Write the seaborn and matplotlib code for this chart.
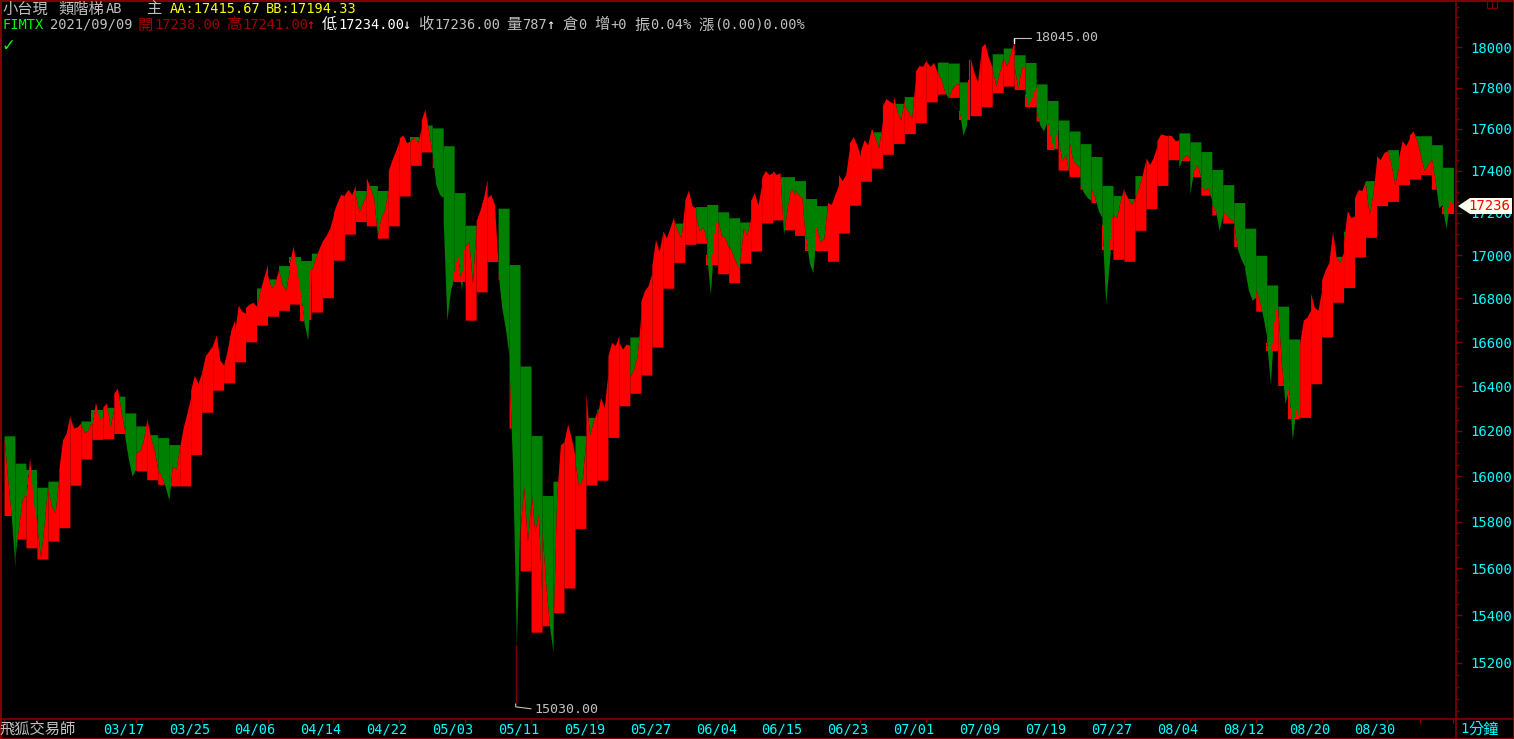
import numpy as np
import matplotlib
matplotlib.use("Agg")
import matplotlib.pyplot as plt
import seaborn as sns
from matplotlib.ticker import FixedLocator, FixedFormatter, NullFormatter
from matplotlib.patches import Polygon, Rectangle

# ---- data: one row per trading day (03/04 .. 09/09) ----
# four intraday price points per day (start, turn, turn, end)
price_path = [
    [16170, 15987, 15822, 15604], [15648, 15778, 15898, 15929], [15911, 16083, 15885, 15796],
    [15778, 15648, 15796, 15973], [15943, 15867, 15840, 16000], [16031, 16161, 16191, 16271],
    [16262, 16213, 16218, 16235], [16226, 16191, 16204, 16249], [16226, 16329, 16249, 16262],
    [16307, 16324, 16218, 16298], [16369, 16391, 16285, 16195], [16174, 16074, 16000, 16031],
    [16104, 16109, 16152, 16249], [16258, 16174, 16117, 16031], [16031, 16000, 15956, 15898],
    [15885, 16044, 16031, 16130], [16130, 16218, 16280, 16351], [16382, 16449, 16413, 16462],
    [16462, 16538, 16560, 16583], [16587, 16632, 16518, 16495], [16495, 16563, 16655, 16700],
    [16650, 16768, 16741, 16732], [16759, 16773, 16782, 16764], [16764, 16838, 16900, 16957],
    [16910, 16848, 16871, 16933], [16933, 16862, 16838, 16933], [16966, 17044, 16933, 16824],
    [16824, 16686, 16609, 16933], [16933, 16981, 17029, 17068], [17068, 17093, 17127, 17190],
    [17200, 17248, 17286, 17281], [17286, 17310, 17286, 17329], [17286, 17200, 17248, 17286],
    [17367, 17319, 17271, 17093], [17093, 17176, 17214, 17319], [17400, 17452, 17495, 17543],
    [17557, 17571, 17533, 17543], [17543, 17562, 17533, 17605], [17643, 17695, 17590, 17476],
    [17476, 17333, 17286, 17271], [17161, 16700, 16838, 16900], [16900, 16995, 16838, 17029],
    [17044, 17063, 16871, 17141], [17161, 17210, 17271, 17357], [17271, 17286, 17240, 16950],
    [16918, 16756, 16662, 16536], [16489, 16017, 15274, 15834], [15758, 15956, 15713, 15895],
    [15941, 15758, 15834, 15462], [15758, 15535, 15360, 15245], [15317, 15911, 16137, 16152],
    [16152, 16231, 16167, 16092], [16062, 15956, 15987, 16167], [16365, 16181, 16243, 16289],
    [16259, 16350, 16304, 16458], [16536, 16599, 16584, 16630], [16599, 16568, 16591, 16584],
    [16443, 16474, 16536, 16725], [16787, 16836, 16860, 16918], [16950, 17074, 17017, 17107],
    [17115, 17082, 17132, 17182], [17167, 17115, 17082, 17250], [17259, 17307, 17232, 17224],
    [17182, 17115, 17132, 17065], [16999, 16818, 17082, 17167], [17167, 17092, 17082, 17033],
    [17050, 17007, 16967, 16933], [16967, 17127, 17093, 17176], [17258, 17295, 17238, 17333],
    [17367, 17400, 17381, 17390], [17400, 17381, 17390, 17093], [17093, 17224, 17319, 17286],
    [17305, 17286, 17271, 17063], [17093, 16967, 16919, 17127], [17127, 17063, 17078, 17238],
    [17248, 17238, 17286, 17329], [17381, 17352, 17381, 17510], [17533, 17562, 17524, 17471],
    [17495, 17548, 17524, 17605], [17605, 17557, 17510, 17638], [17714, 17748, 17733, 17724],
    [17762, 17686, 17643, 17748], [17714, 17686, 17652, 17843], [17881, 17909, 17905, 17938],
    [17928, 17905, 17924, 17876], [17876, 17843, 17781, 17748], [17748, 17795, 17819, 17819],
    [17686, 17571, 17619, 17938], [17947, 17876, 17829, 17986], [18000, 18019, 17948, 17900],
    [17890, 17810, 17876, 17948], [17948, 17905, 17971, 18030], [17905, 17795, 17900, 17905],
    [17762, 17700, 17748, 17795], [17686, 17619, 17590, 17638], [17643, 17543, 17495, 17605],
    [17557, 17448, 17476, 17381], [17543, 17448, 17429, 17414], [17333, 17295, 17271, 17258],
    [17319, 17271, 17210, 17176], [17141, 16777, 16967, 17176], [17190, 17176, 17258, 17319],
    [17305, 17271, 17238, 17271], [17271, 17319, 17381, 17452], [17462, 17429, 17462, 17519],
    [17543, 17576, 17571, 17567], [17571, 17567, 17543, 17548], [17414, 17462, 17476, 17462],
    [17286, 17400, 17429, 17367], [17333, 17305, 17319, 17258], [17238, 17210, 17117, 17190],
    [17205, 17190, 17170, 17160], [17151, 17029, 16981, 16948], [16933, 16838, 16791, 16805],
    [16838, 16791, 16714, 16623], [16595, 16413, 16668, 16768], [16759, 16505, 16324, 16382],
    [16382, 16161, 16298, 16249], [16595, 16700, 16714, 16746], [16824, 16759, 16746, 16838],
    [16886, 16933, 16967, 17112], [17112, 16990, 16967, 17015], [17063, 17210, 17176, 17185],
    [17271, 17310, 17305, 17352], [17333, 17190, 17286, 17448], [17471, 17452, 17486, 17495],
    [17495, 17429, 17333, 17414], [17462, 17543, 17519, 17557], [17571, 17590, 17543, 17476],
    [17476, 17400, 17429, 17452], [17462, 17352, 17224, 17238], [17224, 17127, 17248, 17236],
]

# upper step AA (top of green blocks), None where it is not visible
aa_step = [
    16178, 16057, 16026, 15951, 15978, None, None, 16244, 16289, 16305,
    16355, 16280, 16222, 16183, 16170, 16139, None, None, None, None,
    None, None, 16732, 16848, 16890, 16952, 16990, 16976, 17010, None,
    None, None, 17305, 17329, 17305, None, None, 17560, 17619, 17605,
    17519, 17295, 17141, None, None, 17221, 16957, 16491, 16179, 15915,
    15978, None, 16179, 16260, 16298, None, None, 16623, None, None,
    None, 17151, None, 17229, 17239, 17204, 17176, 17156, None, None,
    17371, 17371, 17352, 17267, 17233, None, None, None, None, 17586,
    None, 17724, 17757, None, None, 17926, 17921, 17829, None, None,
    17967, 17995, 17962, 17924, 17819, 17738, 17643, 17590, 17529, 17467,
    17329, 17281, 17267, 17376, None, None, None, 17581, 17538, 17491,
    17405, 17333, 17248, 17127, 17000, 16862, 16764, 16614, None, None,
    None, 16995, 17112, None, 17352, None, 17500, None, 17567, 17567,
    17524, 17415.67,
]

# lower step BB (bottom of red blocks)
bb_step = [
    15828, 15726, 15688, 15640, 15717, 15775, 15960, 16075, 16162, 16165,
    16188, None, 16023, 15984, 15964, 15957, 15957, 16095, 16283, 16382,
    16415, 16510, 16601, 16677, 16718, 16745, 16774, 16700, 16737, 16803,
    16977, 17099, 17158, 17138, 17080, 17138, 17279, 17425, 17489, 17414,
    17143, 16878, 16700, 16830, 16971, 16886, 16212, 15589, 15329, 15356,
    15411, 15516, 15772, 15961, 15982, 16171, 16312, 16368, 16450, 16577,
    16847, 16967, 17051, 17056, 16957, 16914, 16873, 16963, 17020, 17151,
    17166, 17119, 17093, 17022, 17022, 16972, 17104, 17235, 17349, 17411,
    17478, 17530, 17577, 17630, 17731, 17769, 17753, 17645, 17664, 17707,
    17776, 17808, 17791, 17707, 17638, 17502, 17402, 17371, 17311, 17248,
    17025, 16981, 16972, 17117, 17219, 17329, 17452, 17448, 17371, 17283,
    17190, 17151, 17041, None, 16741, 16563, 16403, 16257, 16260, 16411,
    16623, 16782, 16850, 16992, 17084, 17233, 17253, 17333, 17359, 17381,
    17311, 17194.33,
]

date_labels = ['03/17', '03/25', '04/06', '04/14', '04/22', '05/03', '05/11', '05/19',
               '05/27', '06/04', '06/15', '06/23', '07/01', '07/09', '07/19', '07/27',
               '08/04', '08/12', '08/20', '08/30']
label_days = [9 + 6 * i for i in range(len(date_labels))]
price_ticks = list(range(15200, 18001, 200))

high_val, high_day = 18045.0, 91.98
low_val, low_day = 15030.0, 46.6
last_price = 17236

# ---- style ----
RED, GREEN, DARKRED = '#ff0000', '#008000', '#800000'
CYAN, GRAY, YELLOW = '#00ffff', '#c0c0c0', '#ffff00'
MONO = ['DejaVu Sans Mono', 'Noto Sans CJK TC']
CJK = ['Noto Sans CJK TC', 'DejaVu Sans']

sns.set_theme(style='dark', rc={'axes.facecolor': 'black', 'figure.facecolor': 'black'})
plt.rcParams['font.family'] = MONO

W, H = 1514, 739
fig = plt.figure(figsize=(W / 100, H / 100), dpi=100)
ax = fig.add_axes([1 / W, 20 / H, 1455 / W, 718 / H])
ax.set_facecolor('black')

frac = np.array([0, 1 / 3, 2 / 3, 1])
aa = np.array(aa_step, dtype=float)
bb = np.array(bb_step, dtype=float)
for d, p in enumerate(price_path):
    x = d + frac
    p = np.array(p, dtype=float)
    if not np.isnan(aa[d]):
        ax.fill_between(x, p, aa[d], where=p < aa[d], interpolate=True,
                        color=GREEN, lw=0, antialiased=False)
    if not np.isnan(bb[d]):
        ax.fill_between(x, bb[d], p, where=p > bb[d], interpolate=True,
                        color=RED, lw=0, antialiased=False)

# extreme wicks and their labels
ax.plot([low_day, low_day], [15274, low_val], color=DARKRED, lw=1)
ax.plot([high_day, high_day], [18019, high_val], color='white', lw=1)
ax.plot([low_day, low_day, 48.0], [low_val, 15018, 15010], color=GRAY, lw=0.8)
ax.text(48.3, 15008, '%.2f' % low_val, color=GRAY, fontsize=9.6, va='center', ha='left')
ax.plot([high_day, 93.5], [high_val, high_val], color=GRAY, lw=0.8)
ax.text(93.8, high_val, '%.2f' % high_val, color=GRAY, fontsize=9.6, va='center', ha='left')

ax.set_yscale('log')
ax.set_ylim(14968, 18229)
ax.set_xlim(-0.273, 132.24)
ax.grid(False)
for s in ax.spines.values():
    s.set_visible(False)

ax.yaxis.tick_right()
ax.yaxis.set_major_locator(FixedLocator(price_ticks))
ax.yaxis.set_major_formatter(FixedFormatter([str(v) for v in price_ticks]))
ax.yaxis.set_minor_locator(FixedLocator(range(15000, 18250, 50)))
ax.yaxis.set_minor_formatter(NullFormatter())
ax.tick_params(axis='y', which='major', direction='out', length=4, width=1,
               color=DARKRED, labelcolor=CYAN, labelsize=10, pad=6, right=True, left=False)
ax.tick_params(axis='y', which='minor', direction='out', length=2, width=1,
               color=DARKRED, right=True, left=False)

ax.set_xticks(label_days, date_labels)
ax.set_xticks(np.arange(0, 133, 3), minor=True)
for lab in ax.get_xticklabels():
    lab.set_horizontalalignment('left')
ax.tick_params(axis='x', which='major', length=0, labelcolor=CYAN, labelsize=9.8, pad=2.5)
ax.tick_params(axis='x', which='minor', direction='out', length=3, width=1,
               color=DARKRED, bottom=True)

# ---- frame, header and footer (pixel space) ----
ov = fig.add_axes([0, 0, 1, 1], zorder=5)
ov.set_xlim(0, W)
ov.set_ylim(H, 0)
ov.axis('off')
ov.patch.set_alpha(0)
ov.plot([0.5, W - 0.5, W - 0.5, 0.5, 0.5], [0.5, 0.5, H - 0.5, H - 0.5, 0.5], color=DARKRED, lw=1.5)
ov.plot([0, W], [719, 719], color=DARKRED, lw=1.2)
ov.plot([1456, 1456], [0, H], color=DARKRED, lw=1.2)
ov.add_patch(Rectangle((1487, 1), 10, 7, fill=False, ec=DARKRED, lw=0.8))
ov.plot([1492, 1492], [1, 8], color=DARKRED, lw=0.8)


def put(x, y, s, color, cjk=False):
    if cjk:
        ov.text(x, y, s, color=color, fontsize=11, family=CJK, va='center', ha='left')
    else:
        ov.text(x, y, s, color=color, fontsize=9.8, family=MONO, va='center', ha='left')


put(2, 9, '小台現', GRAY, True)
put(58, 9, '類階梯', GRAY, True)
put(106, 9, 'AB', GRAY)
put(146, 9, '主', GRAY, True)
put(170, 9, 'AA:17415.67', YELLOW)
put(266, 9, 'BB:17194.33', YELLOW)

line2 = [
    (2, 'FIMTX', '#00ff00', False), (50, '2021/09/09', GRAY, False),
    (138, '開', '#a00000', True), (154, '17238.00', '#a00000', False),
    (226, '高', '#a00000', True), (242, '17241.00', '#a00000', False),
    (306, '↑', RED, False), (322, '低', 'white', True), (338, '17234.00', 'white', False),
    (402, '↓', 'white', False), (418, '收', GRAY, True), (434, '17236.00', GRAY, False),
    (506, '量', GRAY, True), (522, '787', GRAY, False), (546, '↑', 'white', False),
    (562, '倉', GRAY, True), (578, '0', GRAY, False), (594, '增', GRAY, True),
    (610, '+0', GRAY, False), (634, '振', GRAY, True), (650, '0.04%', GRAY, False),
    (698, '漲', GRAY, True), (714, '(0.00)0.00%', GRAY, False),
]
for x, s, c, k in line2:
    put(x, 25, s, c, k)
ov.text(2, 46, '✓', color='#00ff00', fontsize=12, family=['DejaVu Sans'], va='center', ha='left')

put(0, 729, '飛狐交易師', GRAY, True)
put(1460, 729, '1', CYAN)
put(1468, 729, '分鐘', CYAN, True)

# last price tag (covers the 17200 label, as in the source)
ov.add_patch(Polygon([(1458, 206), (1470, 198), (1512, 198), (1512, 214), (1470, 214)],
                     closed=True, fc='#fffff0', ec='none', zorder=6))
ov.text(1510, 206, str(last_price), color=RED, fontsize=10, family=MONO,
        va='center', ha='right', zorder=7)

fig.savefig('out.png', dpi=100, facecolor='black')
